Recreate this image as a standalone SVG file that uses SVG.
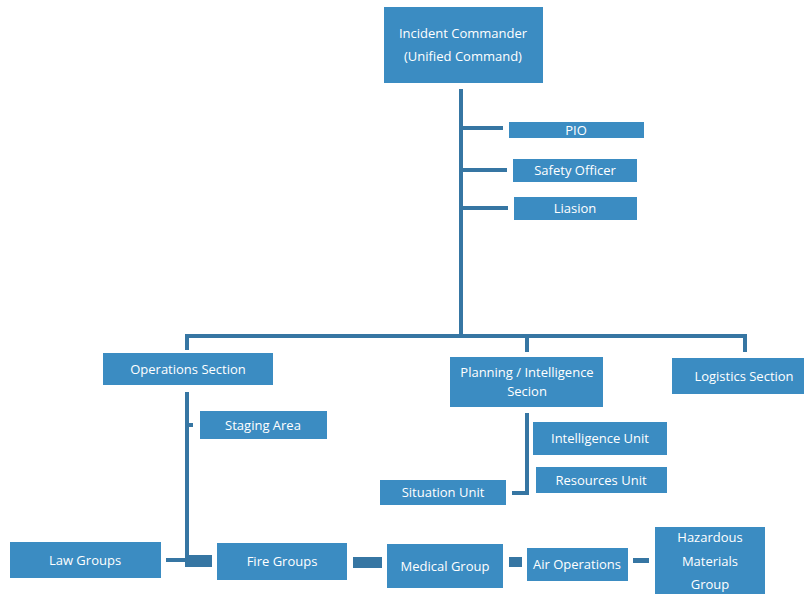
<svg xmlns="http://www.w3.org/2000/svg" width="804" height="595" viewBox="0 0 804 595">
<style>
.n rect{fill:#3b8cc2}
.n text{fill:#ffffff;font-family:"Open Sans","Liberation Sans",sans-serif;font-size:13px;text-anchor:middle}
.c path{stroke:#3676a3;fill:none;stroke-width:4;stroke-linejoin:miter}
.c rect{fill:#3676a3}
</style>
<rect width="804" height="595" fill="#ffffff"/>
<g class="c" id="connectors">
<path d="M461,89 V336"/>
<path d="M461,128 H503"/>
<path d="M461,170 H507"/>
<path d="M461,208 H508"/>
<path d="M187,350 V336 H745 V352"/>
<path d="M527,336 V352"/>
<path d="M187,392 V562 H211"/>
<path d="M187,425 H193"/>
<rect x="185" y="555" width="27" height="12"/>
<path d="M166,560 H186" stroke-width="5"/>
<rect x="353" y="557" width="29" height="11"/>
<rect x="509" y="557" width="13" height="10"/>
<rect x="633" y="558" width="16" height="5"/>
<path d="M527,413 V493 H512" stroke-width="3"/>
</g>
<g class="n" id="incident-commander"><rect x="384" y="7" width="159" height="76"/><text x="463" y="38">Incident Commander</text><text x="463" y="61">(Unified Command)</text></g>
<g class="n" id="pio"><rect x="509" y="122" width="135" height="16"/><text x="576" y="135">PIO</text></g>
<g class="n" id="safety-officer"><rect x="513" y="159" width="124" height="23"/><text x="575" y="175">Safety Officer</text></g>
<g class="n" id="liasion"><rect x="514" y="197" width="123" height="23"/><text x="575" y="213">Liasion</text></g>
<g class="n" id="operations-section"><rect x="103" y="353" width="170" height="32"/><text x="188" y="374">Operations Section</text></g>
<g class="n" id="planning-section"><rect x="450" y="357" width="153" height="50"/><text x="527" y="377">Planning / Intelligence</text><text x="527" y="396">Secion</text></g>
<g class="n" id="logistics-section"><rect x="672" y="358" width="132" height="36"/><text x="744" y="381">Logistics Section</text></g>
<g class="n" id="staging-area"><rect x="200" y="411" width="127" height="28"/><text x="263" y="430">Staging Area</text></g>
<g class="n" id="intelligence-unit"><rect x="533" y="422" width="134" height="33"/><text x="600" y="443">Intelligence Unit</text></g>
<g class="n" id="resources-unit"><rect x="536" y="467" width="131" height="26"/><text x="601" y="485">Resources Unit</text></g>
<g class="n" id="situation-unit"><rect x="380" y="480" width="126" height="25"/><text x="443" y="497">Situation Unit</text></g>
<g class="n" id="law-groups"><rect x="10" y="542" width="151" height="36"/><text x="85" y="565">Law Groups</text></g>
<g class="n" id="fire-groups"><rect x="217" y="543" width="130" height="37"/><text x="282" y="566">Fire Groups</text></g>
<g class="n" id="medical-group"><rect x="387" y="544" width="116" height="44"/><text x="445" y="571">Medical Group</text></g>
<g class="n" id="air-operations"><rect x="527" y="548" width="101" height="33"/><text x="577" y="569">Air Operations</text></g>
<g class="n" id="hazardous-materials-group"><rect x="655" y="527" width="110" height="67"/><text x="710" y="542">Hazardous</text><text x="710" y="566">Materials</text><text x="710" y="589">Group</text></g>
</svg>
